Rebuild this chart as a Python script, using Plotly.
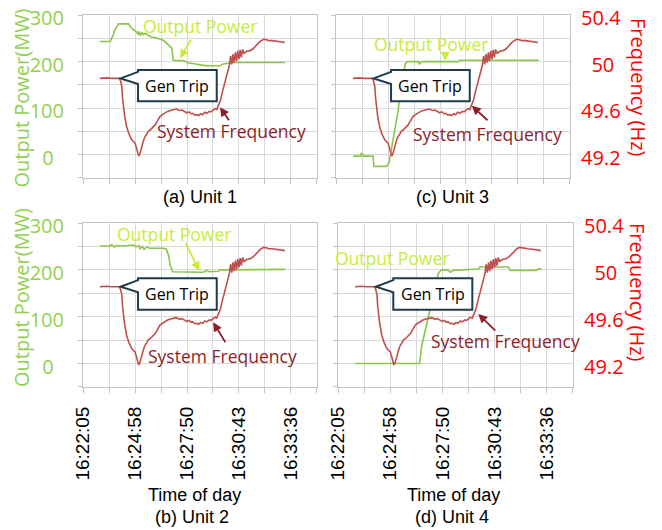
import plotly.graph_objects as go

OFF = 0              # body margin removed by the post script below
W, H = 662, 530

# ---------------- data (time = seconds after 16:22:05) ----------------
freq_t = [56, 78, 95, 112, 121, 125, 129, 131, 134, 138, 145, 153, 162, 169, 173, 178, 182, 185, 189, 192,
          196, 201, 206, 212, 216, 223, 230, 240, 247, 256, 264, 272, 279, 285, 294, 303, 311, 320, 329, 337,
          345, 353, 359, 365, 372, 378, 385, 391, 398, 405, 412, 420, 426, 433, 439, 445, 450, 454, 458, 462,
          467, 472, 478, 483, 487, 491, 495, 499, 503, 507, 511, 515, 519, 523, 527, 531, 536,
          545, 558, 567, 575, 584, 593, 602, 610, 618, 630, 644, 657, 672]
freq_hz = [49.856, 49.86, 49.856, 49.86, 49.856, 49.832, 49.784, 49.70, 49.612, 49.54, 49.44, 49.376, 49.328, 49.312, 49.30, 49.256, 49.22, 49.188, 49.208, 49.248,
           49.272, 49.32, 49.356, 49.376, 49.40, 49.412, 49.432, 49.456, 49.488, 49.528, 49.544, 49.56, 49.568, 49.576, 49.584, 49.588, 49.592, 49.58, 49.584, 49.568,
           49.56, 49.568, 49.552, 49.556, 49.54, 49.544, 49.536, 49.552, 49.544, 49.564, 49.556, 49.572, 49.568, 49.584, 49.596, 49.588, 49.62, 49.64, 49.672, 49.72,
           49.772, 49.82, 49.872, 49.92, 49.968, 50.048, 49.976, 50.064, 49.99, 50.08, 50.004, 50.092, 50.02, 50.1, 50.036, 50.104, 50.072,
           50.088, 50.096, 50.112, 50.136, 50.16, 50.18, 50.192, 50.188, 50.18, 50.18, 50.176, 50.172, 50.164]

unit1_t = [56, 90, 99, 106, 118, 151, 162, 169, 178, 183, 187, 190, 196, 201, 208, 216, 227, 242, 260, 267,
           277, 284, 295, 298, 300, 329, 342, 350, 367, 389, 412, 456, 463, 467, 500, 672]
unit1_mw = [243, 243, 255, 268, 281, 281, 271, 268, 264, 258, 265, 256, 262, 258, 261, 257, 253, 251, 248, 246,
            240, 236, 229, 215, 203, 202, 200, 197, 196, 193, 191, 191, 193, 195, 198, 198]

unit2_t = [56, 90, 95, 104, 112, 130, 168, 177, 186, 190, 197, 203, 212, 221, 267, 277, 285, 290, 298, 389,
           398, 407, 412, 420, 450, 456, 672]
unit2_mw = [251, 251, 254, 249, 252, 251, 253, 249, 252, 245, 250, 244, 249, 246, 246, 244, 230, 210, 196, 196,
            195, 197, 199, 196, 197, 200, 201]

unit3_t = [56, 82, 84, 88, 91, 123, 126, 168, 176, 184, 195, 207, 212, 223, 231, 238, 274, 277, 285, 408,
           411, 452, 675]
unit3_mw = [-3, -3, 3, 2, -3, -3, -25, -25, -18, 10, 53, 96, 125, 168, 196, 200, 200, 194, 200, 200,
            203, 203, 203]

unit4_t = [56, 270, 277, 294, 316, 332, 342, 363, 372, 381, 465, 471, 565, 571, 658, 664, 675]
unit4_mw = [0, 0, 37, 85, 149, 192, 200, 200, 195, 199, 202, 206, 206, 199, 199, 202, 201]

grid_step_s = 86.5
time_tick_labels = ["16:22:05", "", "16:24:58", "", "16:27:50", "", "16:30:43", "", "16:33:36", ""]
mw_ticks = [-50, 0, 50, 100, 150, 200, 250, 300]
mw_tick_labels = ["", "0\u00a0\u00a0", "", "100", "", "200", "", "300"]
hz_ticks = [49.2, 49.6, 50.0, 50.4]
hz_tick_labels = ["49.2", "49.6", "\u00a0\u00a050", "50.4"]

# ---------------- styles ----------------
GREEN = "#8DC54A"
GREEN_LBL = "#92D050"
RED = "#C0504D"
OP_COL = "#C8EC3C"
SF_COL = "#8E1E28"
RED_LBL = "#FF0000"
GRID = "#D9D9D9"
AXIS = "#C4C4C4"
NAVY = "#1F3B4D"
CAL = "Open Sans"
ARIAL = "Liberation Sans"
LBL_SHIFT = 3

panels = [
    dict(i=1, box=(83, 317, 15, 178), t=unit1_t, p=unit1_mw, cap="(a) Unit 1", cap_xy=(200, 197),
         left=True, right=False, xlab=False,
         op_xy=(389, 276), op_arrow=((362, 250), (323, 207)),
         sf_xy=(495, 50), sf_arrow=((489, 71), (456, 102))),
    dict(i=2, box=(336, 570, 15, 178), t=unit3_t, p=unit3_mw, cap="(c) Unit 3", cap_xy=(452, 197),
         left=False, right=True, xlab=False,
         op_xy=(315, 238), op_arrow=((363, 224), (363, 202)),
         sf_xy=(503, 45), sf_arrow=((509, 71), (452, 105))),
    dict(i=3, box=(83, 317, 223, 387), t=unit2_t, p=unit2_mw, cap="(b) Unit 2", cap_xy=(192, 517),
         left=True, right=False, xlab=True,
         op_xy=(303, 276), op_arrow=((339, 260), (387, 198)),
         sf_xy=(465, 17), sf_arrow=((477, 42), (433, 88))),
    dict(i=4, box=(338, 573, 223, 387), t=unit4_t, p=unit4_mw, cap="(d) Unit 4", cap_xy=(452, 517),
         left=False, right=True, xlab=True,
         op_xy=(178, 226), op_arrow=None,
         sf_xy=(554, 49), sf_arrow=((526, 67), (465, 106))),
]

# Gen Trip callout geometry (seconds, MW)
cb_x0, cb_x1, cb_y0, cb_y1 = 183, 445, 115, 182
cb_tip = (125, 164)
cb_att = (178, 152)

fig = go.Figure()
layout = dict(width=W, height=H, margin=dict(l=0, r=0, t=0, b=0), template="none",
              plot_bgcolor="white", paper_bgcolor="white", showlegend=False)
annotations = []
shapes = []

def px2paper_x(v):
    return (v - OFF) / W

def px2paper_y(v):
    return 1 - (v - OFF) / H

tickvals_x = [k * grid_step_s for k in range(len(time_tick_labels))]

for pn in panels:
    i = pn["i"]
    x0, x1, y0, y1 = pn["box"]
    xa = "x" if i == 1 else f"x{i}"
    ya = "y" if i == 1 else f"y{i}"
    yf = f"y{i+4}"
    fig.add_trace(go.Scatter(x=pn["t"], y=pn["p"], mode="lines", line=dict(color=GREEN, width=1.6),
                             xaxis=xa, yaxis=ya, hoverinfo="skip"))
    fig.add_trace(go.Scatter(x=freq_t, y=freq_hz, mode="lines", line=dict(color=RED, width=1.6),
                             xaxis=xa, yaxis=yf, hoverinfo="skip"))
    xk = "xaxis" if i == 1 else f"xaxis{i}"
    yk = "yaxis" if i == 1 else f"yaxis{i}"
    layout[xk] = dict(domain=[px2paper_x(x0), px2paper_x(x1)], anchor=ya, range=[-0.3, 778.8],
                      tickmode="array", tickvals=tickvals_x, ticktext=time_tick_labels,
                      showticklabels=pn["xlab"], tickangle=-90, ticklabeloverflow="allow",
                      tickfont=dict(family=ARIAL, size=19, color="black"),
                      ticks="outside", ticklen=5, tickcolor=AXIS, ticklabelstandoff=6,
                      showgrid=True, gridcolor=GRID, gridwidth=1,
                      showline=True, mirror=True, linecolor=AXIS, linewidth=1, zeroline=False, fixedrange=True)
    layout[yk] = dict(domain=[px2paper_y(y1), px2paper_y(y0)], anchor=xa, range=[-50.05, 300.05],
                      tickmode="array", tickvals=mw_ticks, ticktext=mw_tick_labels,
                      showticklabels=pn["left"], tickfont=dict(family=CAL, size=20, color=GREEN_LBL),
                      ticklabeloverflow="allow", ticklabelshift=LBL_SHIFT,
                      ticks="outside", ticklen=4, tickcolor=AXIS, ticklabelstandoff=10,
                      showgrid=True, gridcolor=GRID, gridwidth=1,
                      showline=True, mirror=True, linecolor=AXIS, linewidth=1, zeroline=False, fixedrange=True)
    layout[f"yaxis{i+4}"] = dict(overlaying=ya, anchor=xa, side="right", range=[49.0, 50.4],
                                 tickmode="array", tickvals=hz_ticks, ticktext=hz_tick_labels,
                                 showticklabels=pn["right"], tickfont=dict(family=CAL, size=20, color=RED_LBL),
                                 ticklabeloverflow="allow", ticklabelshift=LBL_SHIFT,
                                 ticks="", ticklabelstandoff=10, showgrid=False, showline=False,
                                 zeroline=False, fixedrange=True)

    # Gen Trip callout
    path = (f"M {cb_x0},{cb_y1} L {cb_x1},{cb_y1} L {cb_x1},{cb_y0} L {cb_x0},{cb_y0} "
            f"L {cb_x0},{cb_att[1]} L {cb_tip[0]},{cb_tip[1]} L {cb_x0},{cb_att[0]} Z")
    shapes.append(dict(type="path", path=path, xref=xa, yref=ya, fillcolor="white",
                       line=dict(color=NAVY, width=2), layer="above"))
    annotations.append(dict(x=(cb_x0 + cb_x1) / 2, y=(cb_y0 + cb_y1) / 2, xref=xa, yref=ya,
                            text="Gen Trip", showarrow=False, font=dict(family=CAL, size=16, color="black")))
    # Output Power label
    annotations.append(dict(x=pn["op_xy"][0], y=pn["op_xy"][1], xref=xa, yref=ya, text="Output Power",
                            showarrow=False, font=dict(family=CAL, size=17.5, color=OP_COL)))
    if pn["op_arrow"]:
        (tx, ty), (hx, hy) = pn["op_arrow"]
        annotations.append(dict(x=hx, y=hy, ax=tx, ay=ty, xref=xa, yref=ya, axref=xa, ayref=ya, text="",
                                showarrow=True, arrowhead=2, arrowsize=1, arrowwidth=1.8, arrowcolor=OP_COL))
    # System Frequency label
    annotations.append(dict(x=pn["sf_xy"][0], y=pn["sf_xy"][1], xref=xa, yref=ya, text="System Frequency",
                            showarrow=False, font=dict(family=CAL, size=17.5, color=SF_COL)))
    (tx, ty), (hx, hy) = pn["sf_arrow"]
    annotations.append(dict(x=hx, y=hy, ax=tx, ay=ty, xref=xa, yref=ya, axref=xa, ayref=ya, text="",
                            showarrow=True, arrowhead=2, arrowsize=1, arrowwidth=1.8, arrowcolor=SF_COL))
    # caption
    annotations.append(dict(x=px2paper_x(pn["cap_xy"][0]), y=px2paper_y(pn["cap_xy"][1]), xref="paper", yref="paper",
                            text=pn["cap"], showarrow=False, xanchor="center", yanchor="middle",
                            font=dict(family=ARIAL, size=18, color="black")))
    if pn["xlab"]:
        annotations.append(dict(x=px2paper_x(pn["cap_xy"][0] + 2), y=px2paper_y(495), xref="paper", yref="paper",
                                text="Time of day", showarrow=False, xanchor="center", yanchor="middle",
                                font=dict(family=ARIAL, size=18, color="black")))
    if pn["left"]:
        cy = 98.5 if y0 < 100 else 298
        annotations.append(dict(x=px2paper_x(21), y=px2paper_y(cy), xref="paper", yref="paper",
                                text="Output Power(MW)", textangle=-90, showarrow=False,
                                xanchor="center", yanchor="middle",
                                font=dict(family=CAL, size=20, color=GREEN_LBL)))
    if pn["right"]:
        cy = 87 if y0 < 100 else 292
        annotations.append(dict(x=px2paper_x(638), y=px2paper_y(cy), xref="paper", yref="paper",
                                text="Frequency (Hz)", textangle=90, showarrow=False,
                                xanchor="center", yanchor="middle",
                                font=dict(family=CAL, size=20, color=RED_LBL)))

layout["annotations"] = annotations
layout["shapes"] = shapes
fig.update_layout(**layout)
fig.write_html("out.html", config={"displayModeBar": False, "staticPlot": True},
               post_script="document.body.style.margin='0px';")
